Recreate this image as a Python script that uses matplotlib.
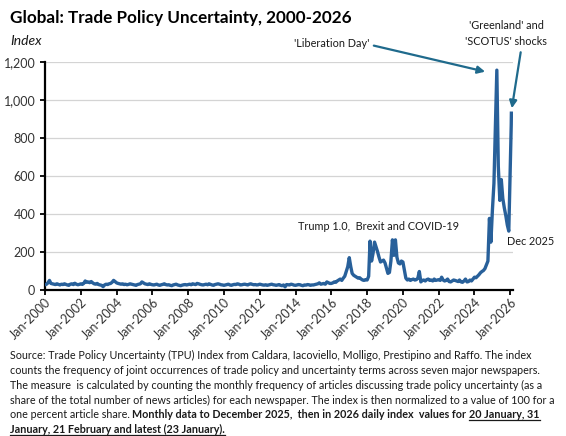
import matplotlib
matplotlib.use("Agg")
import matplotlib.pyplot as plt
import matplotlib.dates as mdates
from matplotlib.ticker import FuncFormatter, MultipleLocator
from matplotlib.lines import Line2D
import pandas as pd

plt.rcParams['font.family'] = ['Lato', 'DejaVu Sans']

# monthly TPU index
tpu_2000s = [
    25, 28, 35, 48, 32, 30, 28, 26, 30, 27, 24, 28,   # 2000
    26, 30, 27, 24, 22, 28, 30, 26, 33, 28, 25, 27,   # 2001
    30, 27, 32, 45, 38, 40, 36, 42, 35, 30, 28, 32,   # 2002
    26, 24, 22, 15, 24, 28, 26, 30, 32, 38, 48, 42,   # 2003
    35, 32, 30, 28, 30, 26, 28, 25, 27, 30, 28, 26,   # 2004
    24, 22, 26, 28, 30, 40, 35, 30, 28, 26, 30, 27,   # 2005
    25, 24, 26, 28, 24, 22, 25, 27, 30, 26, 24, 25,   # 2006
    22, 20, 24, 26, 28, 24, 22, 20, 23, 25, 26, 24,   # 2007
    26, 28, 25, 30, 28, 26, 32, 30, 27, 25, 24, 26,   # 2008
    28, 25, 30, 27, 24, 22, 26, 28, 30, 28, 25, 24,   # 2009
]
tpu_2010s = [
    22, 24, 26, 28, 24, 22, 25, 27, 26, 30, 28, 24,   # 2010
    25, 27, 28, 26, 24, 28, 30, 27, 25, 26, 24, 25,   # 2011
    28, 26, 24, 23, 25, 22, 24, 26, 28, 25, 24, 22,   # 2012
    24, 26, 22, 20, 24, 14, 26, 25, 24, 28, 26, 23,   # 2013
    22, 24, 26, 25, 22, 20, 24, 23, 26, 25, 22, 24,   # 2014
    24, 26, 28, 30, 35, 28, 30, 32, 28, 40, 36, 32,   # 2015
    32, 35, 40, 38, 45, 50, 55, 48, 60, 70, 95, 120,  # 2016
    168, 120, 85, 75, 70, 65, 60, 62, 55, 50, 48, 52,  # 2017
    50, 70, 255, 150, 190, 250, 225, 200, 170, 145, 150, 155,  # 2018
    140, 110, 85, 90, 150, 262, 180, 262, 170, 140, 135, 150,  # 2019
]
tpu_2020s = [
    145, 100, 60, 50, 55, 48, 52, 55, 50, 52, 60, 95,   # 2020
    40, 48, 50, 45, 52, 55, 48, 50, 45, 55, 48, 50,     # 2021
    52, 48, 65, 50, 45, 48, 55, 42, 40, 45, 50, 48,     # 2022
    45, 42, 50, 40, 38, 45, 55, 40, 42, 50, 45, 55,     # 2023
    65, 62, 70, 78, 88, 95, 100, 110, 130, 150, 375, 250,  # 2024
    420, 560, 850, 1157, 650, 470, 580, 480, 430, 390, 340, 308,  # 2025
]
daily_2026_dates = ['2026-01-20', '2026-01-23']
daily_2026_values = [870, 930]

month_dates = pd.date_range('2000-01-01', periods=312, freq='MS')
dates = list(month_dates) + list(pd.to_datetime(daily_2026_dates))
values = tpu_2000s + tpu_2010s + tpu_2020s + daily_2026_values

W, H = 566, 436
line_col = '#28609A'
arrow_col = '#1F6A8C'
txt_col = '#1a1a1a'
note_fs = 7.8

fig = plt.figure(figsize=(W / 100, H / 100), dpi=100)
ax = fig.add_axes([45 / W, 1 - 289.5 / H, (513 - 45) / W, (289.5 - 62) / H])

ax.plot(dates, values, color=line_col, lw=2.4, solid_joinstyle='round', zorder=3)

ax.set_ylim(0, 1200)
ax.set_xlim(pd.Timestamp('2000-01-01'), pd.Timestamp('2026-02-25'))
ax.yaxis.set_major_locator(MultipleLocator(200))
ax.yaxis.set_major_formatter(FuncFormatter(lambda v, p: f'{int(v):,}'))
ax.xaxis.set_major_locator(mdates.YearLocator(2))
ax.xaxis.set_major_formatter(mdates.DateFormatter('Jan-%Y'))
ax.grid(axis='y', color='#d4d4d4', lw=0.9, zorder=0)
ax.set_axisbelow(True)
for s in ('top', 'right'):
    ax.spines[s].set_visible(False)
for s in ('left', 'bottom'):
    ax.spines[s].set_linewidth(1.6)
    ax.spines[s].set_color('black')
ax.tick_params(axis='both', direction='out', length=3.5, width=1.3, colors='black',
               labelcolor='#333333', labelsize=9)
ax.tick_params(axis='x', pad=1)
for lab in ax.get_xticklabels():
    lab.set_rotation(45)
    lab.set_ha('right')
    lab.set_va('top')
    lab.set_rotation_mode('anchor')

# titles
fig.text(10 / W, 1 - 22.7 / H, 'Global: Trade Policy Uncertainty, 2000-2026',
         fontsize=12.3, fontweight='bold', color='black', va='baseline')
fig.text(10 / W, 1 - 45 / H, 'Index', fontsize=10, style='italic', color=txt_col, va='baseline')

# annotations
ax.annotate("'Liberation Day'", xy=(pd.Timestamp('2024-08-05'), 1149),
            xytext=(332, H - 43), textcoords='figure pixels', ha='center', va='center',
            fontsize=note_fs, color=txt_col, annotation_clip=False,
            arrowprops=dict(arrowstyle='-|>', color=arrow_col, lw=1.6, mutation_scale=11,
                            shrinkA=1, shrinkB=0, relpos=(1.0, 0.35)))
ax.annotate("'Greenland' and\n'SCOTUS' shocks", xy=(pd.Timestamp('2026-02-01'), 956),
            xytext=(506, H - 33.5), textcoords='figure pixels', ha='center', va='center',
            multialignment='center', linespacing=1.5,
            fontsize=note_fs, color=txt_col, annotation_clip=False,
            arrowprops=dict(arrowstyle='-|>', color=arrow_col, lw=1.6, mutation_scale=11,
                            shrinkA=2, shrinkB=0, relpos=(0.69, 0.0)))
fig.text(298 / W, 1 - 226 / H, 'Trump 1.0,  Brexit and COVID-19', fontsize=note_fs,
         color=txt_col, va='center', ha='left')
fig.text(507 / W, 1 - 241 / H, 'Dec 2025', fontsize=note_fs, color=txt_col,
         va='center', ha='left')

# footnote with bold / underlined runs
renderer = fig.canvas.get_renderer()
lines = [
    [('Source: Trade Policy Uncertainty (TPU) Index from Caldara, Iacoviello, Molligo, Prestipino and Raffo. The index', 'normal', False)],
    [('counts the frequency of joint occurrences of trade policy and uncertainty terms across seven major newspapers.', 'normal', False)],
    [('The measure  is calculated by counting the monthly frequency of articles discussing trade policy uncertainty (as a', 'normal', False)],
    [('share of the total number of news articles) for each newspaper. The index is then normalized to a value of 100 for a', 'normal', False)],
    [('one percent article share.', 'normal', False),
     ('Monthly data to December 2025,  then in 2026 daily index  values for', 'bold', False),
     ('20 January, 31', 'bold', True)],
    [('January, 21 February and latest (23 January).', 'bold', True)],
]
baselines = [359, 374, 389, 403.5, 418, 433]

probe = fig.text(0, 0, lines[3][0][0], fontsize=10)
fs = 10 * 547 / probe.get_window_extent(renderer).width
probe.remove()


def text_width(s, weight):
    t = fig.text(0, 0, s, fontsize=fs, fontweight=weight)
    w = t.get_window_extent(renderer).width
    t.remove()
    return w


for runs, yb in zip(lines, baselines):
    x = 10
    y = H - yb
    for i, (s, weight, under) in enumerate(runs):
        if i > 0:
            x += text_width('a a', weight) - text_width('aa', weight)
        t = fig.text(x / W, y / H, s, fontsize=fs, fontweight=weight, color=txt_col,
                     va='baseline', ha='left')
        bb = t.get_window_extent(renderer)
        if under:
            fig.add_artist(Line2D([bb.x0, bb.x1], [y - 2, y - 2], transform=None,
                                  color=txt_col, lw=0.9))
        x = bb.x1

fig.savefig('out.png', dpi=100)
